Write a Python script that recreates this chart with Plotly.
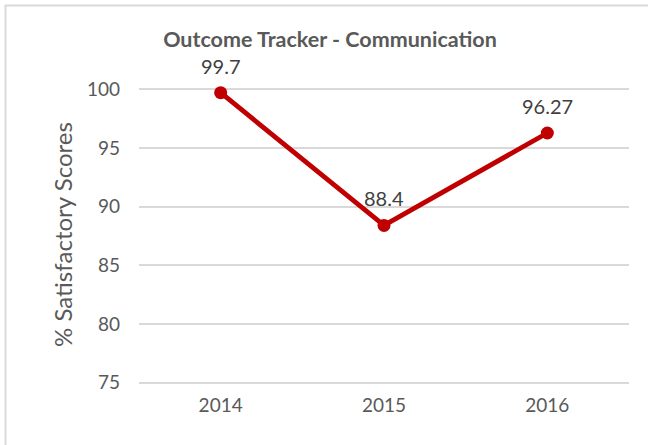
import plotly.graph_objects as go

years = ["2014", "2015", "2016"]
scores = [99.7, 88.4, 96.27]
score_labels = ["99.7", "88.4", "96.27"]
y_ticks = [75, 80, 85, 90, 95, 100]

L, R, T, B = 139, 19, 88, 61
W, H = 648, 445
pw, ph = W - L - R, H - T - B

def px(x):
    return (x - L) / pw

def py(y):
    return (H - B - y) / ph

FONT = "Lato"
GRAY = "#595959"

fig = go.Figure()
fig.add_trace(go.Scatter(
    x=years, y=scores, mode="lines+markers",
    line=dict(color="#C00000", width=4.8),
    marker=dict(color="#C00000", size=13),
    cliponaxis=False, showlegend=False, hoverinfo="x+y",
))

annotations = [
    dict(x=i, y=yv, text=t, xref="x", yref="y", showarrow=False,
         yshift=27, font=dict(family=FONT, size=20, color="#404040"))
    for i, (yv, t) in enumerate(zip(scores, score_labels))
]

fig.update_layout(
    width=W, height=H,
    margin=dict(l=L, r=R, t=T, b=B),
    paper_bgcolor="white", plot_bgcolor="white",
    title=dict(text="<b>Outcome Tracker - Communication</b>",
               x=330 / W, xanchor="center", y=1 - 39 / H, yanchor="middle",
               font=dict(family=FONT, size=21.5, color=GRAY)),
    xaxis=dict(type="category", range=[-0.5, 2.5], showgrid=False, zeroline=False,
               showline=False, ticks="", ticklabelstandoff=8,
               tickfont=dict(family=FONT, size=19, color=GRAY)),
    yaxis=dict(range=[74.9, 100.1], tickvals=y_ticks, showgrid=True,
               gridcolor="#D9D9D9", gridwidth=1.5, zeroline=False, showline=False,
               ticks="", ticklabelstandoff=18,
               tickfont=dict(family=FONT, size=19, color=GRAY)),
    annotations=annotations + [
        dict(text="% Satisfactory Scores", xref="paper", yref="paper",
             x=px(62), y=py(235), xanchor="center", yanchor="middle",
             textangle=-90, showarrow=False,
             font=dict(family=FONT, size=24, color=GRAY)),
    ],
    shapes=[
        dict(type="line", xref="paper", yref="paper", x0=px(5.5), x1=px(5.5),
             y0=py(5), y1=py(450), line=dict(color="#D9D9D9", width=2)),
        dict(type="line", xref="paper", yref="paper", x0=px(5), x1=px(650),
             y0=py(5.5), y1=py(5.5), line=dict(color="#D9D9D9", width=2)),
    ],
)

fig.write_html("out.html", config={"displayModeBar": False},
               post_script="document.body.style.margin='0';")
